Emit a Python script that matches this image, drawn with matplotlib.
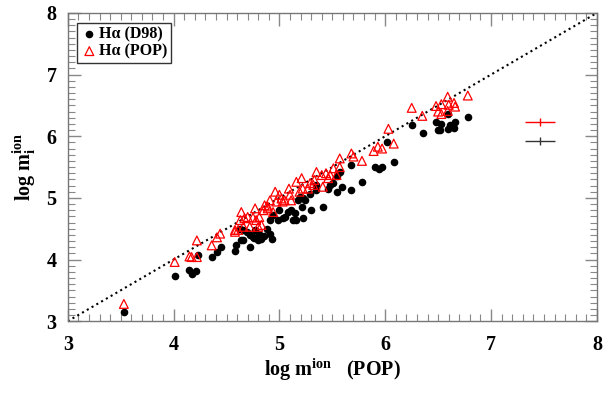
import numpy as np
import matplotlib
matplotlib.use('agg')
import matplotlib.pyplot as plt
from matplotlib.ticker import MultipleLocator

plt.rcParams['font.family'] = ['Liberation Serif', 'DejaVu Serif']
plt.rcParams['font.weight'] = 'bold'
plt.rcParams['mathtext.fontset'] = 'custom'
plt.rcParams['mathtext.rm'] = 'Liberation Serif:bold'
plt.rcParams['mathtext.it'] = 'Liberation Serif:bold'
plt.rcParams['mathtext.bf'] = 'Liberation Serif:bold'

# H-alpha (D98): black dots
d98_x = [3.53, 4.01, 4.15, 4.17, 4.21, 4.23, 4.36, 4.41, 4.45, 4.58, 4.59, 4.66,
         4.72, 4.75, 4.80, 4.83, 4.81, 4.77, 4.66, 4.63, 4.69, 4.72, 4.91, 4.93,
         4.88, 4.91, 4.94, 4.99, 5.00, 5.03, 5.05, 5.08, 5.13, 5.16, 5.15, 5.21,
         5.22, 5.19, 5.24, 5.29, 5.30, 5.35, 5.35, 5.41, 5.46, 5.51, 5.54, 5.57,
         5.59, 5.68, 5.68, 5.78, 5.90, 5.94, 5.97, 6.08, 6.02, 6.25, 6.36, 6.48,
         6.53, 6.50, 6.52, 6.59, 6.61, 6.65, 6.66, 6.59, 6.78, 5.22, 5.11, 5.18,
         5.48, 5.54, 4.85, 4.76, 4.64]
d98_y = [3.15, 3.74, 3.83, 3.77, 3.82, 4.07, 4.04, 4.12, 4.21, 4.14, 4.23, 4.31,
         4.21, 4.37, 4.31, 4.34, 4.42, 4.48, 4.48, 4.50, 4.45, 4.40, 4.42, 4.34,
         4.50, 4.64, 4.72, 4.64, 4.80, 4.67, 4.69, 4.77, 4.64, 4.64, 4.75, 4.86,
         4.99, 5.02, 4.96, 5.07, 4.80, 5.13, 5.21, 4.86, 5.15, 5.24, 5.10, 5.42,
         5.18, 5.13, 5.53, 5.26, 5.50, 5.47, 5.50, 5.58, 5.91, 6.19, 6.06, 6.23,
         6.20, 6.10, 6.10, 6.12, 6.18, 6.14, 6.23, 6.36, 6.32, 4.67, 4.80, 4.96,
         5.21, 5.35, 4.38, 4.35, 4.31]

# H-alpha (POP): red open triangles
pop_x = [3.53, 4.01, 4.15, 4.17, 4.22, 4.22, 4.36, 4.41, 4.44, 4.58, 4.61, 4.64,
         4.63, 4.67, 4.70, 4.75, 4.78, 4.83, 4.72, 4.66, 4.80, 4.77, 4.85, 4.86,
         4.91, 4.89, 4.94, 4.97, 5.02, 5.03, 4.96, 5.00, 5.05, 5.09, 5.10, 5.11,
         5.16, 5.21, 5.19, 5.22, 5.27, 5.29, 5.33, 5.35, 5.32, 5.40, 5.41, 5.44,
         5.46, 5.48, 5.51, 5.54, 5.57, 5.57, 5.68, 5.70, 5.78, 5.89, 5.93, 5.97,
         6.03, 6.08, 6.25, 6.35, 6.48, 6.53, 6.59, 6.60, 6.65, 6.66, 6.50, 6.53,
         6.59, 6.78, 4.58, 4.89, 4.81]
pop_y = [3.28, 3.96, 4.05, 4.04, 4.04, 4.31, 4.23, 4.36, 4.42, 4.48, 4.48, 4.77,
         4.64, 4.67, 4.69, 4.68, 4.64, 4.56, 4.53, 4.53, 4.53, 4.83, 4.80, 4.88,
         4.96, 4.83, 4.77, 4.94, 4.99, 4.94, 5.10, 5.05, 4.96, 5.15, 5.05, 4.96,
         5.26, 5.32, 5.10, 5.15, 5.15, 5.24, 5.29, 5.42, 5.21, 5.37, 5.18, 5.40,
         5.32, 5.37, 5.48, 5.37, 5.64, 5.50, 5.72, 5.67, 5.60, 5.76, 5.83, 5.80,
         6.12, 5.88, 6.46, 6.33, 6.49, 6.52, 6.64, 6.51, 6.54, 6.48, 6.40, 6.36,
         6.41, 6.66, 4.45, 4.86, 4.69]

# typical error bars
err_x = [7.46, 7.46]
err_y = [6.23, 5.92]
err_dx = [0.14, 0.14]
err_dy = [0.06, 0.06]
err_col = ['red', '#333333']

fig = plt.figure(figsize=(6.16, 4.04), dpi=100)
ax = fig.add_axes([0.110, 0.205, 0.859, 0.763])

ax.plot([3, 8], [3, 8], color='black', linestyle=':', linewidth=1.5)
ax.scatter(d98_x, d98_y, s=20, color='black', marker='o', label='Hα (D98)', zorder=3)
ax.scatter(pop_x, pop_y, s=40, facecolor='none', edgecolor='red', marker='^',
           linewidth=0.9, label='Hα (POP)', zorder=4)
for i in range(len(err_x)):
    ax.errorbar(err_x[i], err_y[i], xerr=err_dx[i], yerr=err_dy[i],
                color=err_col[i], linewidth=1, capsize=0)

ax.set_xlim(3, 8)
ax.set_ylim(3, 8)
ax.xaxis.set_major_locator(MultipleLocator(1))
ax.yaxis.set_major_locator(MultipleLocator(1))
ax.xaxis.set_minor_locator(MultipleLocator(0.1))
ax.yaxis.set_minor_locator(MultipleLocator(0.1))
ax.tick_params(which='both', direction='in', top=True, right=True, color='#888888')
ax.tick_params(which='major', length=9, width=1, labelsize=14.5)
ax.tick_params(axis='x', which='major', pad=10)
ax.tick_params(axis='y', which='major', pad=8)
ax.tick_params(which='minor', length=5, width=0.8)
for sp in ax.spines.values():
    sp.set_color('#777777')
    sp.set_linewidth(1)

ax.set_xlabel(r'log m$^{\mathrm{ion}}$   (POP)', fontsize=14.5, fontweight='bold', labelpad=1)
ax.set_ylabel(r'log m$_{\mathrm{i}}^{\mathrm{ion}}$', fontsize=14.5, fontweight='bold', labelpad=6)

leg = ax.legend(loc='upper left', fontsize=11.5, frameon=True, fancybox=False,
                handletextpad=0.1, handlelength=1.0, borderpad=0.25,
                labelspacing=0.05, borderaxespad=0.6)
leg.get_frame().set_edgecolor('black')
leg.get_frame().set_linewidth(1)
for t in leg.get_texts():
    t.set_fontweight('bold')

fig.savefig('out.png', dpi=100)
